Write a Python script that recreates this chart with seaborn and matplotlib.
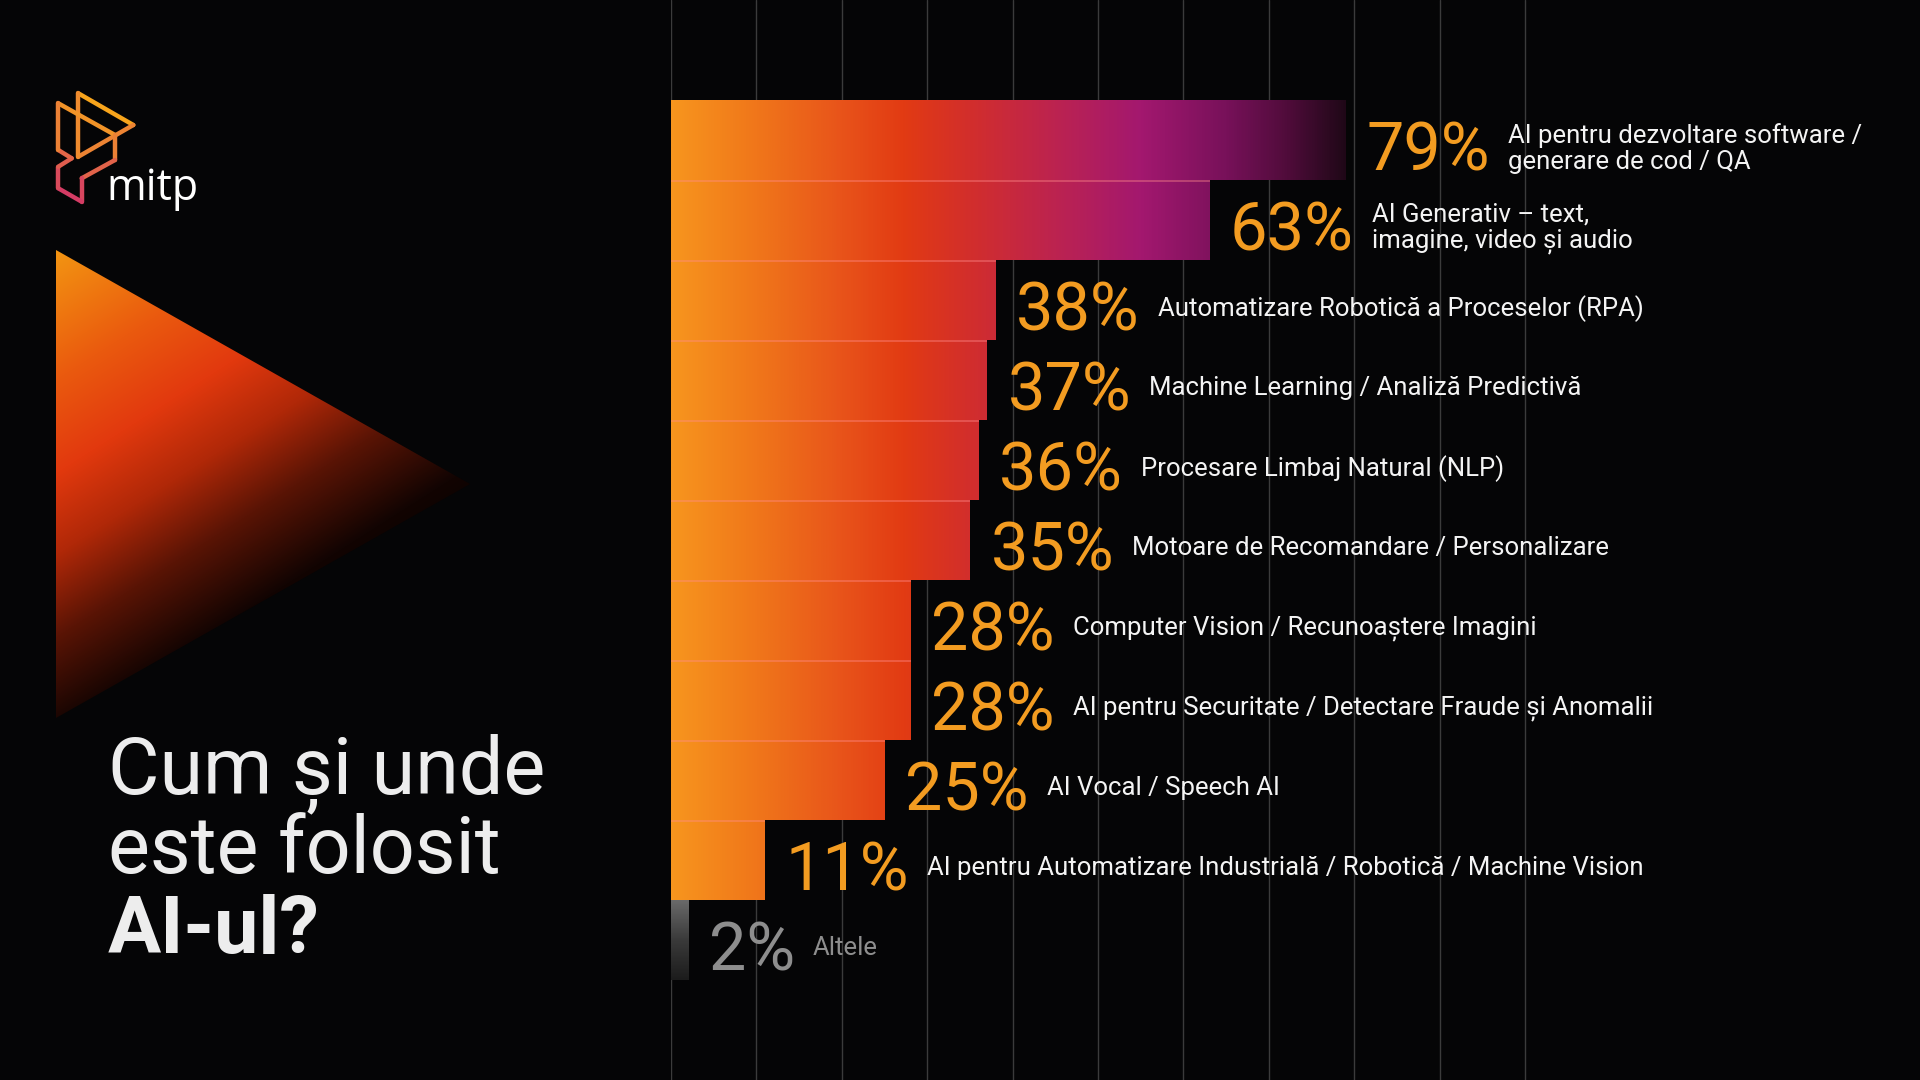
import numpy as np
import pandas as pd
import matplotlib
matplotlib.use("Agg")
import matplotlib.pyplot as plt
import seaborn as sns
from matplotlib import font_manager as fm
from matplotlib.colors import LinearSegmentedColormap, to_rgb
from matplotlib.patches import Polygon
from matplotlib.collections import LineCollection

# ---------------- data ----------------
categories = [
    "AI pentru dezvoltare software /\ngenerare de cod / QA",
    "AI Generativ – text,\nimagine, video și audio",
    "Automatizare Robotică a Proceselor (RPA)",
    "Machine Learning / Analiză Predictivă",
    "Procesare Limbaj Natural (NLP)",
    "Motoare de Recomandare / Personalizare",
    "Computer Vision / Recunoaștere Imagini",
    "AI pentru Securitate / Detectare Fraude și Anomalii",
    "AI Vocal / Speech AI",
    "AI pentru Automatizare Industrială / Robotică / Machine Vision",
    "Altele",
]
values = [79, 63, 38, 37, 36, 35, 28, 28, 25, 11, 2]
value_labels = [f"{v}%" for v in values]
muted_category = "Altele"
grid_ticks = list(range(0, 101, 10))
title_lines = ["Cum și unde", "este folosit", "AI-ul?"]
brand = "mitp"

# ---------------- style ----------------
BG = "#050506"
ORANGE = "#F39C21"
WHITE = "#F4F4F4"
GREY_TXT = "#8E8E8E"
GRID = "#3b3b3b"

sns.set_theme(style="dark")
names = {f.name for f in fm.fontManager.ttflist}
MAIN = "Roboto" if "Roboto" in names else "DejaVu Sans"
TITLE_FONT = MAIN
LOGO_FONT = "Open Sans" if "Open Sans" in names else MAIN
plt.rcParams["font.family"] = [MAIN, "DejaVu Sans"]

fig = plt.figure(figsize=(19.2, 10.8), dpi=100, facecolor=BG)

# background layer in pixel coordinates
bg = fig.add_axes([0, 0, 1, 1], zorder=0)
bg.set_xlim(0, 1920)
bg.set_ylim(1080, 0)
bg.set_facecolor(BG)
bg.axis("off")

# ---- big gradient triangle ----
tri = Polygon([(56, 250), (470, 484), (56, 718)], closed=True,
              facecolor="none", edgecolor="none")
bg.add_patch(tri)
H, W = 468, 414
yy, xx = np.mgrid[0:H, 0:W]
u = yy / H
v = xx / W
s = 0.8 * u + 0.45 * v
stops = [0.0, 0.22, 0.38, 0.52, 0.66, 0.82, 1.0]
cols = ["#F39512", "#EA5A0E", "#E2390E", "#B02808", "#5A1405", "#120402", "#000000"]
rgb = np.array([to_rgb(c) for c in cols])
img = np.stack([np.interp(s, stops, rgb[:, k]) for k in range(3)], axis=-1)
im = bg.imshow(img, extent=[56, 470, 718, 250], origin="upper",
               interpolation="bilinear", aspect="auto", zorder=1)
im.set_clip_path(tri)

# ---- logo ----
back_tri = [(78.3, 93.3), (133.3, 125.0), (78.3, 156.7), (78.3, 93.3)]
front = [(58.3, 103.3), (115.0, 135.0), (115.0, 160.0), (81.7, 178.3),
         (81.7, 201.7), (58.3, 188.3), (58.3, 166.7), (71.7, 158.3),
         (58.3, 150.0), (58.3, 103.3)]
segs = []
for path in (back_tri, front):
    for a, b in zip(path[:-1], path[1:]):
        segs.append([a, b])
logo_top, logo_bot = np.array(to_rgb("#F8A51C")), np.array(to_rgb("#D02F6E"))
seg_cols = []
for (a, b) in segs:
    t = np.clip(((a[1] + b[1]) / 2 - 93) / 110 + ((a[0] + b[0]) / 2 - 58) / -300, 0, 1)
    seg_cols.append(tuple(logo_top * (1 - t) + logo_bot * t))
bg.add_collection(LineCollection(segs, colors=seg_cols, linewidths=3.2,
                                 capstyle="round", joinstyle="round", zorder=3))
bg.text(106, 200, brand, color="white", fontsize=31, family=[LOGO_FONT, "DejaVu Sans"],
        ha="left", va="baseline", zorder=3)

# ---- title ----
title_y = [793, 873, 953]
for i, (line, ty) in enumerate(zip(title_lines, title_y)):
    bg.text(108, ty, line, color="#EDEDED", fontsize=57,
            family=[TITLE_FONT, "DejaVu Sans"],
            fontweight="bold" if i == 2 else "normal",
            ha="left", va="baseline", zorder=3)

# ---------------- bar chart ----------------
ax = fig.add_axes([671 / 1920, 0, 1 - 671 / 1920, 1], zorder=1)
ax.set_facecolor("none")
df = pd.DataFrame({"category": categories, "value": values})
sns.barplot(data=df, x="value", y="category", orient="h", width=1.0,
            color="#F7951E", saturation=1, errorbar=None, ax=ax)

bar_stops = [(0.0, "#F7951E"), (10 / 80, "#F0761A"), (20 / 80, "#E8531A"),
             (27 / 80, "#E23B13"), (35 / 80, "#D22E2C"), (45 / 80, "#BC2350"),
             (55 / 80, "#A3186F"), (65 / 80, "#78115A"), (72 / 80, "#520C3C"),
             (79 / 80, "#200818"), (1.0, "#1A0612")]
bar_cmap = LinearSegmentedColormap.from_list("bars", bar_stops)
light_stops = [(p, tuple(np.array(to_rgb(c)) * 0.62 + np.array([1.0, 0.55, 0.55]) * 0.38))
               for p, c in bar_stops]
light_cmap = LinearSegmentedColormap.from_list("bars_light", light_stops)
grey_cmap = LinearSegmentedColormap.from_list("grey", ["#6A6A6A", "#3A3A3A", "#1C1C1C"])

grad = np.linspace(0, 1, 800).reshape(1, -1)
for i, p in enumerate(ax.patches):
    p.set_facecolor("none")
    p.set_edgecolor("none")
    y0, h, w = p.get_y(), p.get_height(), p.get_width()
    if categories[i] == muted_category:
        vg = np.linspace(0, 1, 200).reshape(-1, 1)
        gi = ax.imshow(vg, cmap=grey_cmap, extent=[0, w, y0 + h, y0], origin="upper",
                       aspect="auto", interpolation="bilinear", zorder=2)
        gi.set_clip_path(p)
    else:
        bi = ax.imshow(grad, cmap=bar_cmap, extent=[0, 80, y0 + h, y0], origin="upper",
                       aspect="auto", interpolation="bilinear", zorder=2)
        bi.set_clip_path(p)
        if i > 0:
            hi = ax.imshow(grad, cmap=light_cmap, extent=[0, 80, y0 + 0.028, y0],
                           origin="upper", aspect="auto", interpolation="bilinear",
                           zorder=2.5)
            hi.set_clip_path(p)

# value + category labels
for i, (val, vl, cat) in enumerate(zip(values, value_labels, categories)):
    muted = cat == muted_category
    pct = ax.annotate(vl, xy=(val, i), xytext=(15, -22), textcoords="offset points",
                      ha="left", va="baseline", fontsize=48, fontweight="normal",
                      color=GREY_TXT if muted else ORANGE, zorder=4)
    ax.annotate(cat, xy=(1, 0.5), xycoords=pct, xytext=(13, 3),
                textcoords="offset points", ha="left", va="center",
                fontsize=18.5, linespacing=1.1,
                color=GREY_TXT if muted else WHITE, zorder=4)

# grid & axes cosmetics
ax.set_xticks(grid_ticks)
ax.grid(axis="x", color=GRID, linewidth=1.0)
ax.grid(axis="y", visible=False)
ax.set_axisbelow(True)
ax.tick_params(length=0, labelbottom=False, labelleft=False)
ax.set_xlabel("")
ax.set_ylabel("")
for sp in ax.spines.values():
    sp.set_visible(False)
ax.set_xlim(0, (1920 - 671) / 8.54)
ax.set_ylim(len(values) - 0.5 + 1.25, -0.5 - 1.25)

fig.savefig("out.png", dpi=100, facecolor=BG)
